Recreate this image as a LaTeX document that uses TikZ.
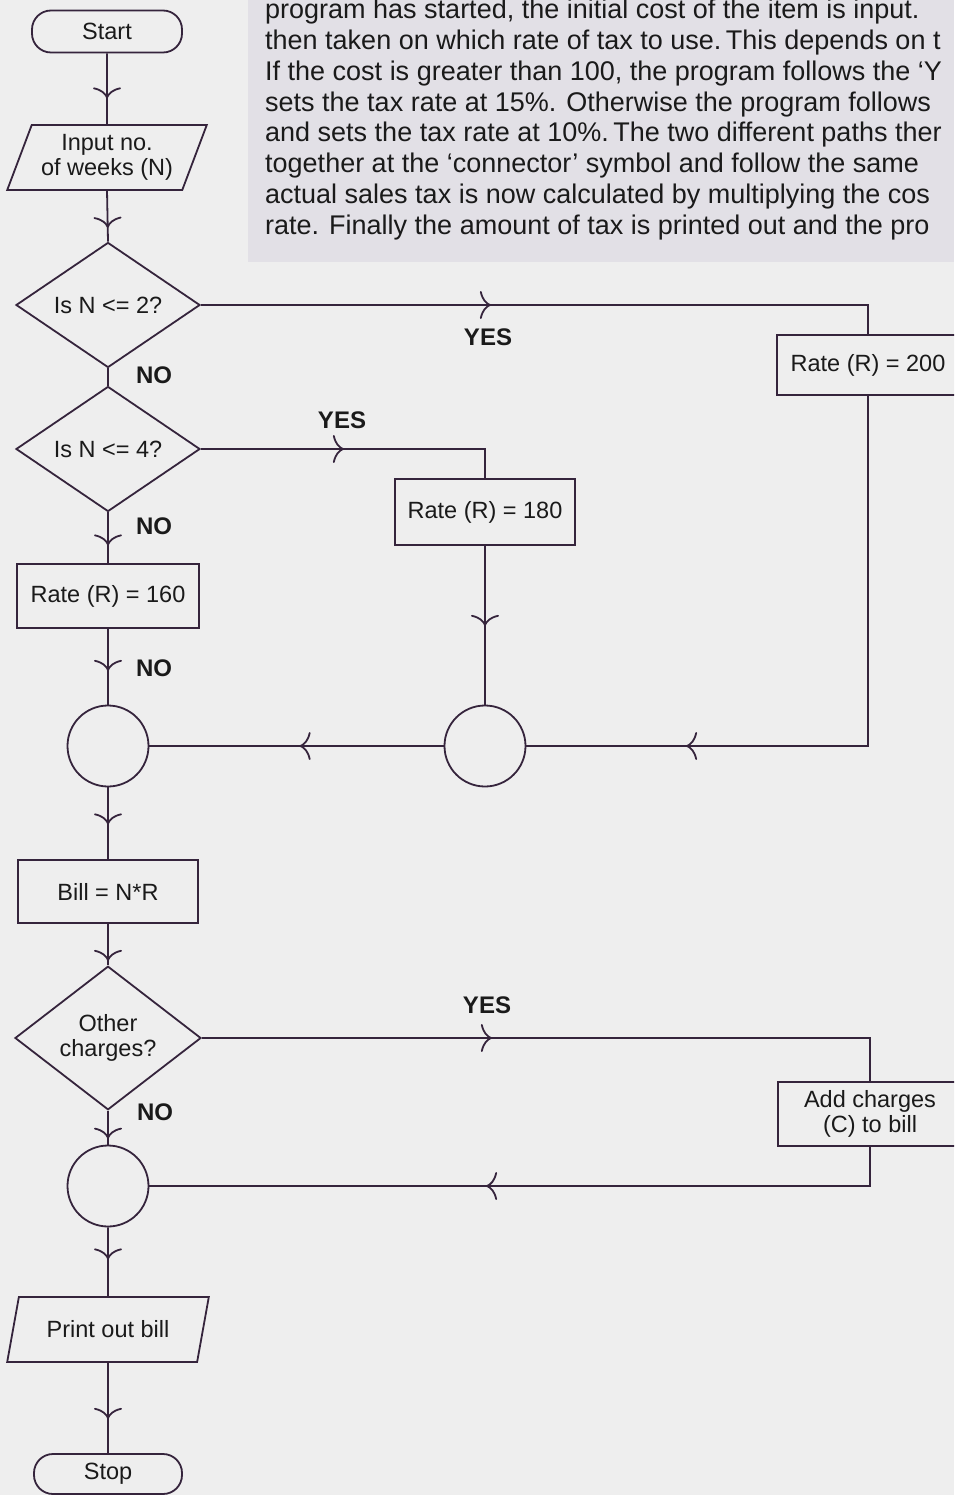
\documentclass[tikz,border=0pt]{standalone}
\usepackage{fontspec}
\setmainfont{Liberation Sans}
\usetikzlibrary{shapes.geometric,arrows.meta,decorations.markings}
\definecolor{ink}{HTML}{35243C}
\definecolor{paper}{HTML}{EEEEEE}
\definecolor{panel}{HTML}{E2E0E6}
\definecolor{txt}{HTML}{1A1A1A}
\tikzset{
  flow/.style={draw=ink, line width=1.8pt, text=txt, fill=paper,
    font=\fontsize{23.5}{25}\selectfont, align=center, inner sep=0pt},
  box/.style={flow, rectangle},
  term/.style={flow, rectangle, rounded corners=19pt},
  para/.style={flow, trapezium, trapezium left angle=65, trapezium right angle=115,
    trapezium stretches=true},
  dec/.style={flow, diamond},
  circ/.style={flow, circle, minimum size=81pt},
  conn/.style={draw=ink, color=ink, line width=1.8pt},
  marr/.style={postaction={decorate, decoration={markings,
    mark=at position #1 with {\arrow{Computer Modern Rightarrow[length=11pt,width=28pt,line width=1.8pt]}}}}},
  lbl/.style={text=txt, font=\bfseries\fontsize{24}{26}\selectfont, inner sep=0pt},
  ptext/.style={text=txt, font=\fontsize{27}{31}\selectfont, anchor=base west, inner sep=0pt}
}
\begin{document}
\begin{tikzpicture}[x=1pt,y=-1pt]
\useasboundingbox (0,0) rectangle (954,1495);
\clip (0,0) rectangle (954,1495);
\fill[paper] (0,0) rectangle (954,1495);
\fill[panel] (248,0) rectangle (954,262);

% paragraph
\node[ptext] (p1) at (265,19) {program has started, the initial cost of the item is input.};
\node[ptext] (p2) at (265,50) {then taken on which rate of tax to use.\,This depends on t};
\node[ptext] (p3) at (265,81) {If the cost is greater than 100, the program follows the ‘Y};
\node[ptext] (p4) at (265,112) {sets the tax rate at 15\%. Otherwise the program follows};
\node[ptext] (p5) at (265,142) {and sets the tax rate at 10\%.\,The two different paths ther};
\node[ptext] (p6) at (265,173) {together at the ‘connector’ symbol and follow the same};
\node[ptext] (p7) at (265,204) {actual sales tax is now calculated by multiplying the cos};
\node[ptext] (p8) at (265,235) {rate. Finally the amount of tax is printed out and the pro};

% nodes
\node[term, minimum width=150pt, minimum height=42pt] (start) at (107,31.5) {Start};
\node[para, minimum width=200pt, minimum height=65pt] (inp) at (107,157.5) {Input no.\\of weeks (N)};
\node[dec, minimum width=184pt, minimum height=86pt] (d1) at (108,305) {Is N <= 2?};
\node[dec, minimum width=184pt, minimum height=86pt] (d2) at (108,449) {Is N <= 4?};
\node[box, minimum width=182pt, minimum height=60pt] (r200) at (868,365) {Rate (R) = 200};
\node[box, minimum width=180pt, minimum height=66pt] (r180) at (485,512) {Rate (R) = 180};
\node[box, minimum width=182pt, minimum height=64pt] (r160) at (108,596) {Rate (R) = 160};
\node[circ] (c1) at (108,746) {};
\node[circ] (c2) at (485,746) {};
\node[box, minimum width=180pt, minimum height=63pt] (bill) at (108,891.5) {Bill = N*R};
\node[dec, minimum width=186pt, minimum height=87pt] (d3) at (108,1038) {Other\\charges?};
\node[box, minimum width=184pt, minimum height=64pt] (add) at (870,1114) {Add charges\\(C) to bill};
\node[circ] (c3) at (108,1186) {};
\node[para, minimum width=202pt, minimum height=65pt] (print) at (108,1329.5) {Print out bill};
\node[term, minimum width=148pt, minimum height=40pt] (stop) at (108,1474) {Stop};

% connectors
\draw[conn, marr=45pt] (start.south) -- (inp.north);
\draw[conn, marr=37pt] (inp.south) -- (d1.north);
\draw[conn, marr=290pt] (d1.east) -| (r200.north);
\draw[conn, marr=30pt] (d1.south) -- (d2.north);
\draw[conn, marr=143pt] (d2.east) -| (r180.north);
\draw[conn, marr=33pt] (d2.south) -- (r160.north);
\draw[conn, marr=42pt] (r160.south) -- (c1.north);
\draw[conn, marr=80pt] (r180.south) -- (c2.north);
\draw[conn, marr=532pt] (r200.south) |- (c2.east);
\draw[conn, marr=144pt] (c2.west) -- (c1.east);
\draw[conn, marr=37pt] (c1.south) -- (bill.north);
\draw[conn, marr=37pt] (bill.south) -- (d3.north);
\draw[conn, marr=290pt] (d3.east) -| (add.north);
\draw[conn, marr=28pt] (d3.south) -- (c3.north);
\draw[conn, marr=423pt] (add.south) |- (c3.east);
\draw[conn, marr=32pt] (c3.south) -- (print.north);
\draw[conn, marr=56pt] (print.south) -- (stop.north);

% labels
\node[lbl] (yes1) at (488,337) {YES};
\node[lbl] (no1) at (154,375) {NO};
\node[lbl] (yes2) at (342,420) {YES};
\node[lbl] (no2) at (154,526) {NO};
\node[lbl] (no3) at (154,668) {NO};
\node[lbl] (yes3) at (487,1005) {YES};
\node[lbl] (no4) at (155,1112) {NO};
\end{tikzpicture}
\end{document}
